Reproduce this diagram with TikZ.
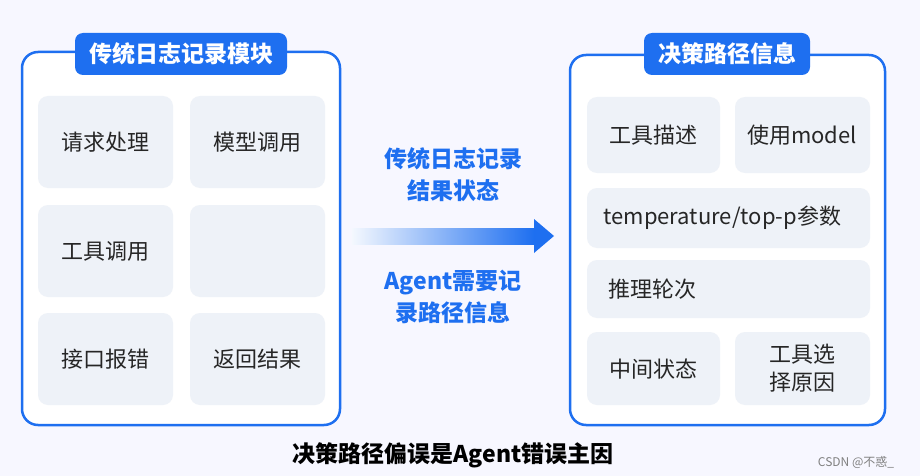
\documentclass[tikz,border=0pt]{standalone}
\usepackage{fontspec}
\setmainfont{Noto Sans CJK SC}
\usetikzlibrary{positioning}
\definecolor{mblue}{HTML}{1E6FF0}
\definecolor{cellf}{HTML}{EEF2F8}
\begin{document}
\begin{tikzpicture}[x=1pt,y=-1pt,
 panel/.style={draw=mblue,line width=2.5pt,rounded corners=16pt,fill=white},
 tab/.style={fill=mblue,text=white,rounded corners=8pt,font=\fontsize{23}{26}\selectfont\bfseries,minimum height=42pt,inner xsep=14pt},
 cell/.style={fill=cellf,rounded corners=10pt},
 ctext/.style={font=\fontsize{22}{28}\selectfont,text=black!85,align=center},
 mtext/.style={font=\fontsize{23}{32}\selectfont\bfseries,text=mblue,align=center}]
\useasboundingbox (0,0) rectangle (920,476);
\fill[blue!3] (0,0) rectangle (920,476);
% left panel
\draw[panel] (22,52) rectangle (340,425);
\node[tab] (lt) at (181,54) {传统日志记录模块};
\foreach \x/\y/\w/\h/\n in {38/96/135/92/a,190/96/135/92/b,38/205/135/92/c,190/205/135/92/d,38/313/135/92/e,190/313/135/92/f}{
 \fill[cell] (\x,\y) rectangle ++(\w,\h);}
\node[ctext] (la) at (105,142) {请求处理};
\node[ctext] (lb) at (257,142) {模型调用};
\node[ctext] (lc) at (105,251) {工具调用};
\node[ctext] (le) at (105,359) {接口报错};
\node[ctext] (lf) at (257,359) {返回结果};
% right panel
\draw[panel] (570,55) rectangle (885,425);
\node[tab] (rt) at (727,54) {决策路径信息};
\fill[cell] (587,97) rectangle (720,173);
\fill[cell] (735,97) rectangle (870,173);
\fill[cell] (587,188) rectangle (870,248);
\fill[cell] (587,260) rectangle (870,318);
\fill[cell] (587,332) rectangle (720,405);
\fill[cell] (735,332) rectangle (870,405);
\node[ctext] (ra) at (653,135) {工具描述};
\node[ctext] (rb) at (802,135) {使用model};
\node[ctext,anchor=west] (rc) at (600,218) {temperature/top-p参数};
\node[ctext,anchor=west] (rd) at (605,289) {推理轮次};
\node[ctext] (re) at (653,369) {中间状态};
\node[ctext] (rf) at (802,368) {工具选\\择原因};
% middle
\node[mtext] (m1) at (453,175) {传统日志记录\\结果状态};
\node[mtext] (m2) at (453,297) {Agent需要记\\录路径信息};
\shade[left color=mblue!5,right color=mblue] (352,228) rectangle (534,244);
\fill[mblue] (534,219) -- (554,236) -- (534,253) -- cycle;
% bottom
\node[font=\fontsize{23}{26}\selectfont\bfseries] (bt) at (453,455) {决策路径偏误是Agent错误主因};
\node[font=\fontsize{12}{14}\selectfont,text=gray] (wm) at (856,462) {CSDN @不惑\_};
\end{tikzpicture}
\end{document}
